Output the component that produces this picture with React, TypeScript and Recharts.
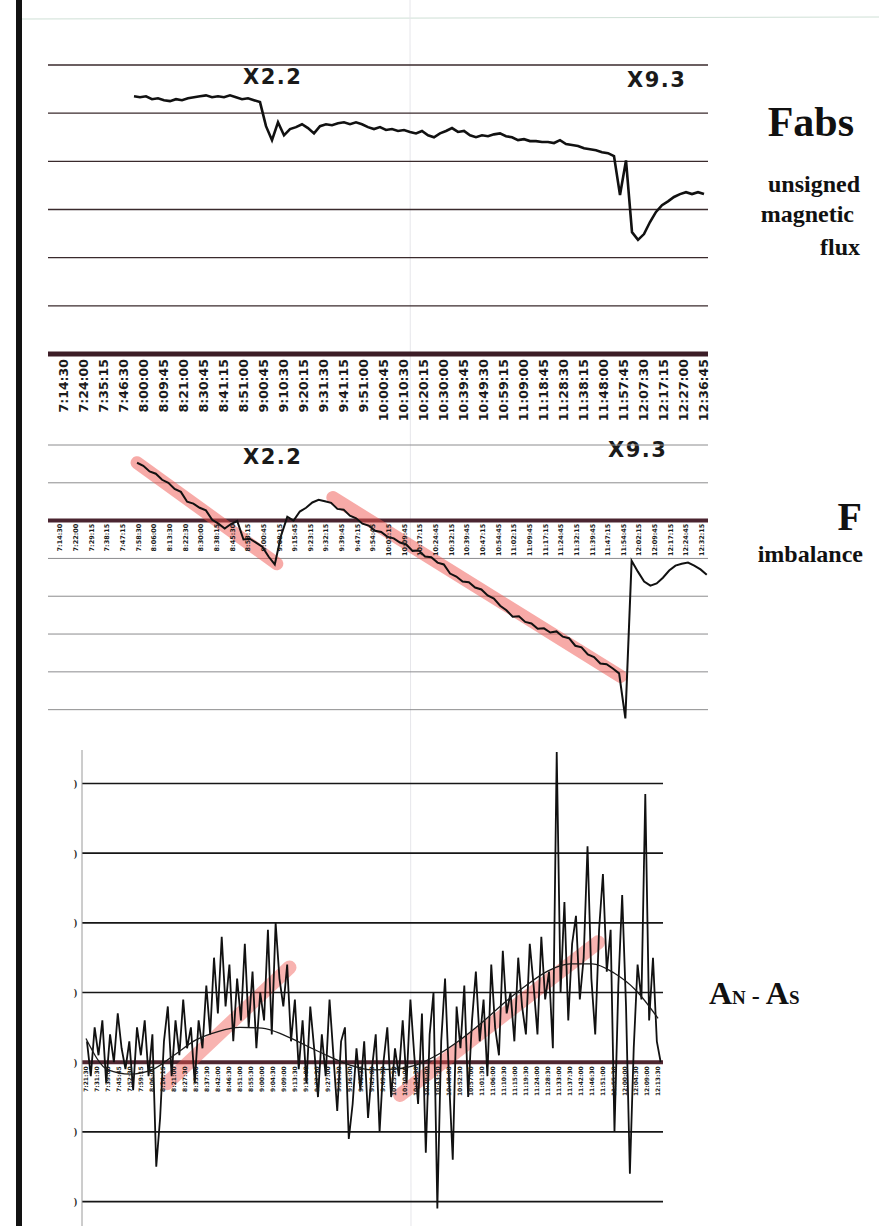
import React from 'react';
import { LineChart, Line, XAxis, YAxis, ReferenceLine } from 'recharts';

// ---------- top panel: Fabs, unsigned magnetic flux ----------
const FABS_TIMES = [
  '7:14:30', '7:24:00', '7:35:15', '7:46:30', '8:00:00', '8:09:45', '8:21:00', '8:30:45',
  '8:41:15', '8:51:00', '9:00:45', '9:10:30', '9:20:15', '9:31:30', '9:41:15', '9:51:00',
  '10:00:45', '10:10:30', '10:20:15', '10:30:00', '10:39:45', '10:49:30', '10:59:15', '11:09:00',
  '11:18:45', '11:28:30', '11:38:15', '11:48:00', '11:57:45', '12:07:30', '12:17:15', '12:27:00',
  '12:36:45',
];
// sample position on the label axis: first sample and spacing (in label slots)
const FABS_START = 3.55;
const FABS_STEP = 0.3;
const FABS_VALUES = [
  5.35, 5.33, 5.35, 5.29, 5.31, 5.27, 5.25, 5.29, 5.27, 5.31,
  5.33, 5.35, 5.37, 5.33, 5.35, 5.33, 5.37, 5.33, 5.29, 5.31,
  5.27, 5.23, 4.73, 4.44, 4.81, 4.54, 4.67, 4.71, 4.77, 4.69,
  4.58, 4.73, 4.77, 4.75, 4.79, 4.81, 4.77, 4.81, 4.77, 4.71,
  4.67, 4.71, 4.65, 4.67, 4.63, 4.65, 4.61, 4.58, 4.63, 4.54,
  4.50, 4.58, 4.63, 4.69, 4.61, 4.63, 4.54, 4.50, 4.54, 4.52,
  4.56, 4.58, 4.52, 4.50, 4.44, 4.46, 4.42, 4.42, 4.40, 4.40,
  4.38, 4.44, 4.36, 4.34, 4.32, 4.27, 4.25, 4.23, 4.19, 4.17,
  4.11, 3.30, 4.02, 2.53, 2.37, 2.49, 2.74, 2.95, 3.09, 3.17,
  3.26, 3.32, 3.36, 3.32, 3.36, 3.32,
];
const FABS_GRID = [1, 2, 3, 4, 5, 6];

// ---------- middle panel: F imbalance ----------
const IMB_TIMES = [
  '7:14:30', '7:22:00', '7:29:15', '7:38:15', '7:47:15', '7:58:30', '8:06:00', '8:13:30',
  '8:22:30', '8:30:00', '8:38:15', '8:45:30', '8:53:15', '9:00:45', '9:08:15', '9:15:45',
  '9:23:15', '9:32:15', '9:39:45', '9:47:15', '9:54:45', '10:02:15', '10:09:45', '10:17:15',
  '10:24:45', '10:32:15', '10:39:45', '10:47:15', '10:54:45', '11:02:15', '11:09:45', '11:17:15',
  '11:24:45', '11:32:15', '11:39:45', '11:47:15', '11:54:45', '12:02:15', '12:09:45', '12:17:15',
  '12:24:45', '12:32:15',
];
const IMB_START = 4.92;
const IMB_STEP = 0.4;
const IMB_VALUES = [
  1.53, 1.45, 1.30, 1.24, 1.08, 1.00, 0.84, 0.76, 0.50, 0.45,
  0.34, 0.27, 0.02, -0.08, -0.21, -0.09, -0.01, -0.50, -0.48, -0.58,
  -0.69, -0.95, -1.16, -0.40, 0.10, 0.00, 0.24, 0.34, 0.48, 0.55,
  0.51, 0.47, 0.31, 0.29, 0.13, 0.06, -0.08, -0.13, -0.27, -0.30,
  -0.43, -0.47, -0.58, -0.63, -0.80, -0.79, -0.95, -0.97, -1.11, -1.16,
  -1.40, -1.48, -1.61, -1.63, -1.77, -1.82, -1.98, -2.06, -2.25, -2.37,
  -2.54, -2.53, -2.68, -2.72, -2.86, -2.85, -2.96, -2.93, -3.07, -3.11,
  -3.31, -3.35, -3.54, -3.61, -3.78, -3.80, -3.91, -4.04, -5.23, -1.06,
  -1.35, -1.61, -1.72, -1.66, -1.51, -1.32, -1.19, -1.14, -1.11, -1.19,
  -1.29, -1.43,
];
const IMB_GRID = [-5, -4, -3, -2, -1, 1, 2];
// hand-drawn highlighter strokes: [x0, y0, x1, y1] in data units
const IMB_MARKS = [
  [4.92, 1.53, 13.85, -1.14],
  [17.43, 0.61, 35.82, -4.12],
];

// ---------- bottom panel: AN - AS ----------
const ASYM_TIMES = [
  '7:21:30', '7:31:30', '7:39:00', '7:45:45', '7:52:30', '7:59:15', '8:06:00', '8:14:15',
  '8:21:00', '8:27:30', '8:33:00', '8:37:30', '8:42:00', '8:46:30', '8:51:00', '8:55:30',
  '9:00:00', '9:04:30', '9:09:00', '9:13:30', '9:18:00', '9:22:30', '9:27:00', '9:31:30',
  '9:36:00', '9:40:30', '9:45:00', '9:49:30', '10:25:30', '10:30:00', '10:34:30', '10:39:00',
  '10:43:30', '10:48:00', '10:52:30', '10:57:00', '11:01:30', '11:06:00', '11:10:30', '11:15:00',
  '11:19:30', '11:24:00', '11:28:30', '11:33:00', '11:37:30', '11:42:00', '11:46:30', '11:51:00',
  '11:55:30', '12:00:00', '12:04:30', '12:09:00', '12:13:30',
];
const ASYM_START = 0.09;
const ASYM_STEP = 0.35;
const ASYM_VALUES = [
  0.3, -0.2, 0.5, 0.1, 0.6, -0.3, 0.4, 0.0, 0.7, 0.2, -0.1,
  0.3, -0.4, 0.5, 0.1, 0.6, -0.2, 0.4, -1.5, -0.8,
  0.3, 0.8, -0.2, 0.6, 0.1, 0.9, 0.2, 0.5, -0.3,
  0.6, 0.2, 1.1, 0.4, 1.5, 0.7, 1.8,
  0.8, 1.4, 0.3, 1.2, 0.6, 1.7, 0.5, 1.3, 0.2, 1.0, 0.6, 1.9, 0.4, 2.0, 1.2, 0.8,
  1.4, 0.3, 0.9, -0.1,
  0.6, -0.3, 0.8, 0.2, -0.5, 0.4, -0.2, 0.9, 0.1, -0.7, 0.3, 0.5, -1.1,
  -0.6, 0.2, -0.4, 0.3, -0.8, -0.1, 0.4, -1.0, 0.0, 0.5, -0.5, 0.2, -0.2,
  0.6, -0.3, 0.9, 0.1, -0.6, 0.7, -1.3, 0.4, 1.0, -2.1,
  0.3, 1.2, -0.2, -1.4, 0.8, 0.2, 1.1, -0.5,
  0.6, 1.3, 0.3, 0.9, -0.2, 1.4, 0.5, 0.1, 1.6, 0.7, 1.0, 0.3, 1.5, 0.8, 0.4, 1.7,
  1.1, 0.4, 1.8, 0.9, 1.3, 0.2,
  4.45, 1.0, 2.3, 0.6, 1.7, 2.1, 0.9, 1.5, 3.1, 1.2, 0.4, 1.9,
  2.7, 1.3, 1.9, -1.0, 1.1, 2.4, 0.8, -1.6,
  0.2, 1.4, 0.9, 3.85, 0.6, 1.5, 0.3, 0.0,
];
// smooth fitted curve drawn over the noisy series
const ASYM_TREND_AT = [0, 2, 4, 6, 8, 10, 12, 14, 16, 18, 20, 22, 24, 26, 28, 30, 32, 34, 36, 38, 40, 42, 44, 46, 48, 50, 52];
const ASYM_TREND = [
  0.34, -0.11, -0.17, -0.11, 0.10, 0.32, 0.44, 0.50, 0.49, 0.39, 0.24, 0.09, -0.04, -0.11,
  -0.10, -0.04, 0.11, 0.32, 0.57, 0.85, 1.10, 1.31, 1.41, 1.41, 1.28, 1.03, 0.63,
];
const ASYM_GRID = [-2, -1, 1, 2, 3, 4];
const ASYM_TICKS = [-2, -1, 0, 1, 2, 3, 4];
const ASYM_MARKS = [
  [7.36, -0.3, 18.5, 1.36],
  [28.55, -0.47, 46.55, 1.72],
];

// ---------- layout ----------
const W = 879;
const IMB_DOMAIN: [number, number] = [-5.3, 2];
const IMB_PLOT_H = 276;
const ASYM_DOMAIN: [number, number] = [-2.35, 4.48];
const ASYM_PLOT_H = 476;

const fabsData = FABS_VALUES.map((v, i) => ({ t: FABS_START + i * FABS_STEP, v }));
const imbData = IMB_VALUES.map((v, i) => ({ t: IMB_START + i * IMB_STEP, v }));
const asymData = ASYM_VALUES.map((v, i) => ({ t: ASYM_START + i * ASYM_STEP, v }));
const trendData = ASYM_TREND.map((v, i) => ({ t: ASYM_TREND_AT[i], v }));

// distance from the bottom of the plot up to the zero line (axis crosses at 0)
const zeroLift = (domain: [number, number], plotH: number) =>
  (plotH * (0 - domain[0])) / (domain[1] - domain[0]);

const timeTick = (labels: string[], size: number, shift: number) => (props: any) => {
  const { x, y, payload } = props;
  return (
    <text
      transform={`translate(${x},${y + shift}) rotate(-90)`}
      textAnchor="end"
      dy="0.36em"
      fontSize={size}
      fontWeight="bold"
      fontFamily="'DejaVu Sans', sans-serif"
      fill="#1c1c1c"
    >
      {labels[payload.value] ?? ''}
    </text>
  );
};

const stubTick = (props: any) => {
  const { x, y } = props;
  return (
    <text x={x - 5} y={y} dy="0.35em" textAnchor="end" fontSize={10} fontWeight="bold" fill="#222">
      )
    </text>
  );
};

const serif = "'Liberation Serif', 'Times New Roman', serif";
const sans = "'DejaVu Sans', sans-serif";

export default function App() {
  return (
    <div style={{ position: 'absolute', left: 0, top: 0, width: W, height: 1226, overflow: 'hidden', background: '#fff' }}>
      <svg width={W} height={1226} style={{ position: 'absolute', left: 0, top: 0 }}>
        <line x1={22} y1={19} x2={W} y2={17} stroke="#cfe0d6" strokeWidth={1} />
        <line x1={410} y1={0} x2={411} y2={1226} stroke="#e6e6ea" strokeWidth={1} />
        <rect x={16} y={0} width={6} height={1226} fill="#121212" />

        <text x={243} y={84} fontFamily={sans} fontWeight="bold" fontSize={21} letterSpacing={1.5} fill="#1a1a1a">X2.2</text>
        <text x={627} y={87} fontFamily={sans} fontWeight="bold" fontSize={21} letterSpacing={1.5} fill="#1a1a1a">X9.3</text>
        <text x={243} y={464} fontFamily={sans} fontWeight="bold" fontSize={21} letterSpacing={1.5} fill="#1a1a1a">X2.2</text>
        <text x={608} y={457} fontFamily={sans} fontWeight="bold" fontSize={21} letterSpacing={1.5} fill="#1a1a1a">X9.3</text>

        <text x={854} y={136} textAnchor="end" fontFamily={serif} fontWeight="bold" fontSize={42} fill="#111">Fabs</text>
        <text x={860} y={192} textAnchor="end" fontFamily={serif} fontWeight="bold" fontSize={24} fill="#111">unsigned</text>
        <text x={854} y={222} textAnchor="end" fontFamily={serif} fontWeight="bold" fontSize={24} fill="#111">magnetic</text>
        <text x={860} y={255} textAnchor="end" fontFamily={serif} fontWeight="bold" fontSize={24} fill="#111">flux</text>

        <text x={862} y={530} textAnchor="end" fontFamily={serif} fontWeight="bold" fontSize={40} fill="#111">F</text>
        <text x={863} y={562} textAnchor="end" fontFamily={serif} fontWeight="bold" fontSize={24} fill="#111">imbalance</text>

        <text x={709} y={1004} fontFamily={serif} fontWeight="bold" fill="#111">
          <tspan fontSize={32}>A</tspan>
          <tspan fontSize={19}>N</tspan>
          <tspan fontSize={24}> - </tspan>
          <tspan fontSize={32}>A</tspan>
          <tspan fontSize={19}>S</tspan>
        </text>
      </svg>

      <div style={{ position: 'absolute', left: 0, top: 0 }}>
        <LineChart width={W} height={440} data={fabsData} margin={{ top: 65, right: 171, bottom: 16, left: 48 }}>
          {FABS_GRID.map((g) => (
            <ReferenceLine key={g} y={g} stroke="#3a2a2c" strokeWidth={1.3} />
          ))}
          <XAxis
            type="number"
            dataKey="t"
            domain={[-0.75, 32.25]}
            allowDataOverflow
            ticks={FABS_TIMES.map((_, i) => i)}
            interval={0}
            height={70}
            tickSize={0}
            tickMargin={0}
            tickLine={false}
            axisLine={{ stroke: '#3c1d27', strokeWidth: 5 }}
            tick={timeTick(FABS_TIMES, 12.5, 5)}
          />
          <YAxis hide type="number" domain={[0, 6]} allowDataOverflow />
          <Line type="linear" dataKey="v" stroke="#111" strokeWidth={2.6} dot={false} isAnimationActive={false} />
        </LineChart>
      </div>

      <div style={{ position: 'absolute', left: 0, top: 400 }}>
        <LineChart width={W} height={340} data={imbData} margin={{ top: 45, right: 171, bottom: 18, left: 48 }}>
          {IMB_GRID.map((g) => (
            <ReferenceLine key={g} y={g} stroke="#8c8c8e" strokeWidth={1} />
          ))}
          <ReferenceLine y={0} stroke="#4a2430" strokeWidth={4} />
          {IMB_MARKS.map((m, i) => (
            <ReferenceLine
              key={`m${i}`}
              segment={[{ x: m[0], y: m[1] }, { x: m[2], y: m[3] }]}
              stroke="#f0564f"
              strokeOpacity={0.5}
              strokeWidth={13}
              strokeLinecap="round"
            />
          ))}
          <XAxis
            type="number"
            dataKey="t"
            domain={[-0.77, 41.4]}
            allowDataOverflow
            ticks={IMB_TIMES.map((_, i) => i)}
            interval={0}
            height={1}
            tickSize={0}
            tickMargin={0}
            tickLine={false}
            axisLine={false}
            tick={timeTick(IMB_TIMES, 6.5, 3 - zeroLift(IMB_DOMAIN, IMB_PLOT_H))}
          />
          <YAxis hide type="number" domain={IMB_DOMAIN} allowDataOverflow />
          <Line type="linear" dataKey="v" stroke="#111" strokeWidth={2} dot={false} isAnimationActive={false} />
        </LineChart>
      </div>

      <div style={{ position: 'absolute', left: 0, top: 720 }}>
        <LineChart width={W} height={507} margin={{ top: 30, right: 216, bottom: 0, left: 62 }}>
          {ASYM_GRID.map((g) => (
            <ReferenceLine key={g} y={g} stroke="#161616" strokeWidth={1.6} />
          ))}
          <ReferenceLine y={0} stroke="#4f2630" strokeWidth={4} />
          {ASYM_MARKS.map((m, i) => (
            <ReferenceLine
              key={`m${i}`}
              segment={[{ x: m[0], y: m[1] }, { x: m[2], y: m[3] }]}
              stroke="#f0564f"
              strokeOpacity={0.45}
              strokeWidth={14}
              strokeLinecap="round"
            />
          ))}
          <XAxis
            type="number"
            dataKey="t"
            domain={[-0.36, 52.45]}
            allowDataOverflow
            ticks={ASYM_TIMES.map((_, i) => i)}
            interval={0}
            height={1}
            tickSize={0}
            tickMargin={0}
            tickLine={false}
            axisLine={false}
            tick={timeTick(ASYM_TIMES, 6, 4 - zeroLift(ASYM_DOMAIN, ASYM_PLOT_H))}
          />
          <YAxis
            type="number"
            domain={ASYM_DOMAIN}
            allowDataOverflow
            ticks={ASYM_TICKS}
            interval={0}
            width={20}
            tickSize={0}
            tickMargin={0}
            tickLine={false}
            axisLine={{ stroke: '#9a9a9a', strokeWidth: 1 }}
            tick={stubTick}
          />
          <Line data={asymData} type="linear" dataKey="v" stroke="#111" strokeWidth={1.8} dot={false} isAnimationActive={false} />
          <Line data={trendData} type="monotone" dataKey="v" stroke="#1a1a1a" strokeWidth={1.3} dot={false} isAnimationActive={false} />
        </LineChart>
      </div>
    </div>
  );
}
